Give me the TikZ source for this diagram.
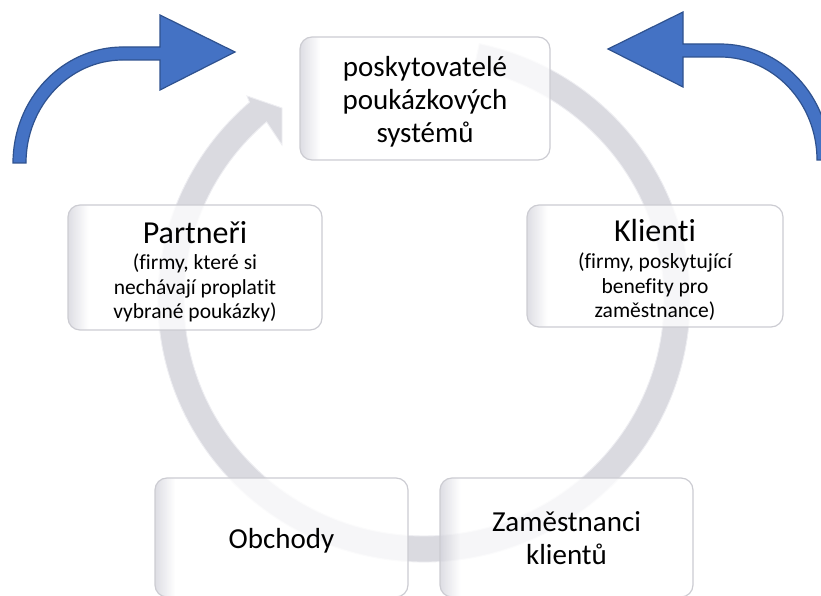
\documentclass[tikz,border=0pt]{standalone}
\usepackage{fontspec}
\setmainfont{Carlito}[Ligatures=NoCommon]
\usetikzlibrary{calc}
\definecolor{ringfill}{RGB}{218,218,224}
\definecolor{ringedge}{RGB}{238,238,242}
\definecolor{boxline}{RGB}{204,204,210}
\definecolor{boxedge}{RGB}{212,212,220}
\definecolor{arrowblue}{RGB}{68,114,196}
\definecolor{arrowline}{RGB}{47,82,143}
\pgfdeclarehorizontalshading{boxshade}{100bp}{color(0bp)=(boxedge); color(25bp)=(boxedge); color(29bp)=(white); color(100bp)=(white)}
\begin{document}
\begin{tikzpicture}[x=1pt,y=1pt,
  box/.style={draw=boxline, line width=1.2pt, rounded corners=12pt, shading=boxshade,
    fill opacity=0.78, inner sep=0pt},
  txt/.style={align=center, inner sep=0pt, font=\fontsize{29}{33}\selectfont},
  subtxt/.style={align=center, inner sep=0pt, font=\fontsize{21.5}{24.5}\selectfont},
  ring/.style={fill=ringfill, draw=ringedge, line width=0.9pt},
  bluearrow/.style={fill=arrowblue, draw=arrowline, line width=1.2pt, line join=miter}]
\useasboundingbox (0,0) rectangle (821,596);
\coordinate (c) at (424,296);
% grey circular arrow
\path[ring] ($(c)+(78:266 and 262)$)
  arc[start angle=78, end angle=-229, x radius=266, y radius=262]
  -- (247,500) -- (282,488) -- (282,451)
  -- ($(c)+(131:240 and 236)$)
  arc[start angle=-229, end angle=78, x radius=240, y radius=236] -- cycle;
% boxes
\node[box, minimum width=250pt, minimum height=123pt] (prov) at (425,497.5) {};
\node[box, minimum width=254pt, minimum height=125pt] (part) at (195,328.5) {};
\node[box, minimum width=256pt, minimum height=122pt] (kli) at (655,330) {};
\node[box, minimum width=253pt, minimum height=119pt] (obch) at (281.5,58.5) {};
\node[box, minimum width=253pt, minimum height=119pt] (zam) at (566.5,58.5) {};
% texts
\node[txt] (provt) at ($(prov.center)+(0,-3)$) {poskytovatelé\\poukázkových\\systémů};
\node[subtxt] (partt) at ($(part.center)+(0,-4)$)
  {{\fontsize{32}{32}\selectfont Partneři}\\[2pt](firmy, které si\\nechávají proplatit\\vybrané poukázky)};
\node[subtxt] (klit) at ($(kli.center)+(0,-4)$)
  {{\fontsize{32}{32}\selectfont Klienti}\\[3pt](firmy, poskytující\\benefity pro\\zaměstnance)};
\node[txt] (obcht) at ($(obch.center)+(0,-3)$) {Obchody};
\node[txt] (zamt) at ($(zam.center)+(0,-1)$) {Zaměstnanci\\klientů};
% blue bent arrows
\path[bluearrow] (13,433) arc[start angle=180, end angle=90, x radius=110, y radius=116]
  -- (160,549) -- (160,581) -- (235,544) -- (160,506) -- (160,536) -- (123,536)
  arc[start angle=90, end angle=180, x radius=97, y radius=103] -- cycle;
\path[bluearrow] (830,436) arc[start angle=0, end angle=90, x radius=110, y radius=116]
  -- (683,552) -- (683,584) -- (608,547) -- (683,509) -- (683,539) -- (720,539)
  arc[start angle=90, end angle=0, x radius=97, y radius=103] -- cycle;
\end{tikzpicture}
\end{document}
